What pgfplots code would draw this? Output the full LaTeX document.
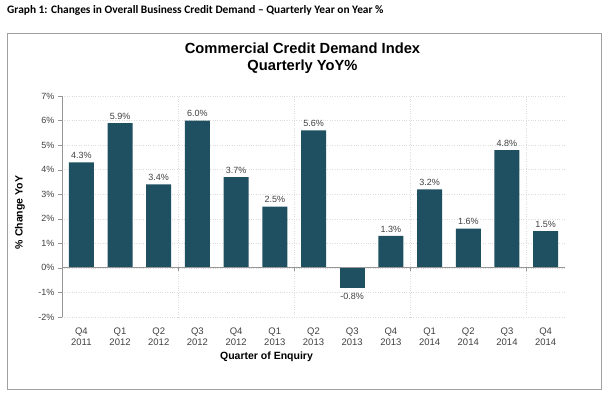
\documentclass[border=0pt]{standalone}
\usepackage{pgfplots}
\pgfplotsset{compat=1.18}
\usepackage{fontspec}
\setmainfont{Liberation Sans}
\newfontfamily\calibri{Carlito}
\definecolor{barc}{RGB}{31,80,98}
\definecolor{txt}{RGB}{64,64,64}
\definecolor{axisgray}{RGB}{150,150,150}
\definecolor{gridgray}{RGB}{220,220,220}
\definecolor{boxgray}{RGB}{160,160,160}
\begin{document}
\begin{tikzpicture}[x=1bp,y=1bp]
\path[use as bounding box] (0,0) rectangle (612,399);
\node[anchor=west, inner sep=0pt, font=\calibri\bfseries\fontsize{11.4bp}{13bp}\selectfont] at (7,389) {Graph 1: Changes in Overall Business Credit Demand – Quarterly Year on Year \%};
\draw[boxgray, line width=1bp] (7,10) rectangle (601,366);
\node[align=center, inner sep=0pt, font=\bfseries\fontsize{14.7bp}{17.5bp}\selectfont] at (302.5,341) {Commercial Credit Demand Index\\Quarterly YoY\%};
\node[font=\bfseries\fontsize{10.5bp}{12bp}\selectfont] at (266.5,42) {Quarter of Enquiry};
\node[rotate=90, font=\bfseries\fontsize{10.5bp}{12bp}\selectfont] at (20,186.5) {\% Change YoY};
\begin{axis}[
  at={(62bp,82bp)}, anchor=south west,
  scale only axis, width=503bp, height=221bp,
  xmin=-0.5, xmax=12.5, ymin=-2, ymax=7,
  axis y line*=left, axis x line*=bottom,
  x axis line style={draw=none},
  y axis line style={draw=axisgray},
  ytick={-2,-1,0,1,2,3,4,5,6,7},
  yticklabels={-2\%,-1\%,0\%,1\%,2\%,3\%,4\%,5\%,6\%,7\%},
  ytick style={draw=axisgray},
  tick align=outside, major tick length=4bp,
  xtick={0,1,2,3,4,5,6,7,8,9,10,11,12},
  xticklabels={{Q4\\2011},{Q1\\2012},{Q2\\2012},{Q3\\2012},{Q4\\2012},{Q1\\2013},{Q2\\2013},{Q3\\2013},{Q4\\2013},{Q1\\2014},{Q2\\2014},{Q3\\2014},{Q4\\2014}},
  xtick style={draw=none},
  xticklabel style={align=center, font=\fontsize{9.5bp}{11.5bp}\selectfont, text=txt, yshift=-3bp},
  yticklabel style={font=\fontsize{9bp}{11bp}\selectfont, text=txt},
  ymajorgrids, major grid style={dotted, gridgray},
  extra x ticks={2.5,5.5,8.5,11.5},
  extra x tick labels={},
  extra x tick style={grid=major, major grid style={dotted, gridgray}, tick style={draw=none}},
  clip=false,
]
\addplot[ybar, bar width=25bp, fill=barc, draw=none,
  point meta=explicit symbolic,
  nodes near coords,
  every node near coord/.append style={font=\fontsize{9bp}{11bp}\selectfont, text=txt, anchor=south},
] coordinates {
  (0,4.3) [4.3\%]
  (1,5.9) [5.9\%]
  (2,3.4) [3.4\%]
  (3,6.0) [6.0\%]
  (4,3.7) [3.7\%]
  (5,2.5) [2.5\%]
  (6,5.6) [5.6\%]
  (8,1.3) [1.3\%]
  (9,3.2) [3.2\%]
  (10,1.6) [1.6\%]
  (11,4.8) [4.8\%]
  (12,1.5) [1.5\%]
};
\addplot[ybar, bar width=25bp, fill=barc, draw=none,
  point meta=explicit symbolic,
  nodes near coords,
  every node near coord/.append style={font=\fontsize{9bp}{11bp}\selectfont, text=txt, anchor=north, yshift=-2bp},
] coordinates {
  (7,-0.8) [-0.8\%]
};
\draw[axisgray, line width=0.8bp] (axis cs:-0.5,0) -- (axis cs:12.5,0);
\draw[axisgray] (axis cs:2.5,0) -- ([yshift=-3bp]axis cs:2.5,0);
\draw[axisgray] (axis cs:5.5,0) -- ([yshift=-3bp]axis cs:5.5,0);
\draw[axisgray] (axis cs:8.5,0) -- ([yshift=-3bp]axis cs:8.5,0);
\draw[axisgray] (axis cs:11.5,0) -- ([yshift=-3bp]axis cs:11.5,0);
\end{axis}
\end{tikzpicture}
\end{document}
